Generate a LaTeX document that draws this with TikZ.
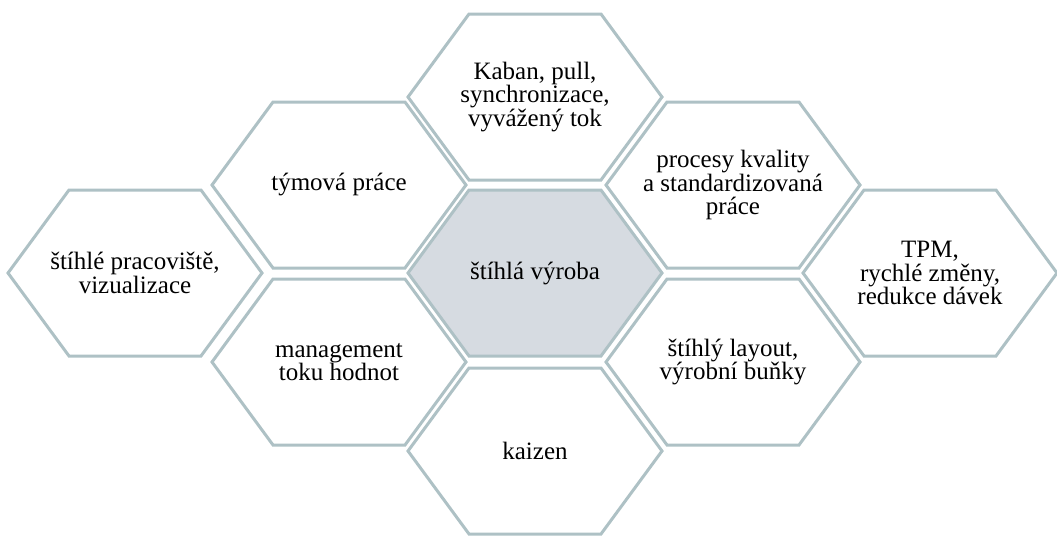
\documentclass[tikz,border=0pt]{standalone}
\usepackage{fontspec}
\setmainfont{Liberation Serif}
\definecolor{hexline}{HTML}{AEC1C5}
\definecolor{hexcore}{HTML}{D6DBE1}
\tikzset{
  hexedge/.style={draw=hexline, line width=3pt, line join=miter},
  hexlabel/.style={align=center, font=\fontsize{25}{23.5}\selectfont, text=black, inner sep=0pt},
}
% #1 name, #2 x, #3 y, #4 fill colour, #5 label
\newcommand\hexcell[5]{%
  \begin{scope}[shift={(#2,#3)}]
    \filldraw[hexedge, fill=#4] (-127,0) -- (-66,-83) -- (66,-83) -- (127,0)
      -- (66,83) -- (-66,83) -- cycle;
    \node[hexlabel] (#1) at (0,0) {#5};
  \end{scope}}
\begin{document}
\begin{tikzpicture}[x=1pt, y=-1pt]
  \useasboundingbox (0,0) rectangle (1057,536);
  \hexcell{core}{535}{273}{hexcore}{štíhlá výroba}
  \hexcell{flow}{535}{97}{white}{Kaban, pull,\\synchronizace,\\vyvážený tok}
  \hexcell{kaizen}{535}{451}{white}{kaizen}
  \hexcell{team}{339}{185}{white}{týmová práce}
  \hexcell{vsm}{339}{362}{white}{management\\toku hodnot}
  \hexcell{quality}{733}{185}{white}{procesy kvality\\a standardizovaná\\práce}
  \hexcell{layout}{733}{362}{white}{štíhlý layout,\\výrobní buňky}
  \hexcell{workplace}{135}{273}{white}{štíhlé pracoviště,\\vizualizace}
  \hexcell{tpm}{930}{273}{white}{TPM,\\rychlé změny,\\redukce dávek}
\end{tikzpicture}
\end{document}
